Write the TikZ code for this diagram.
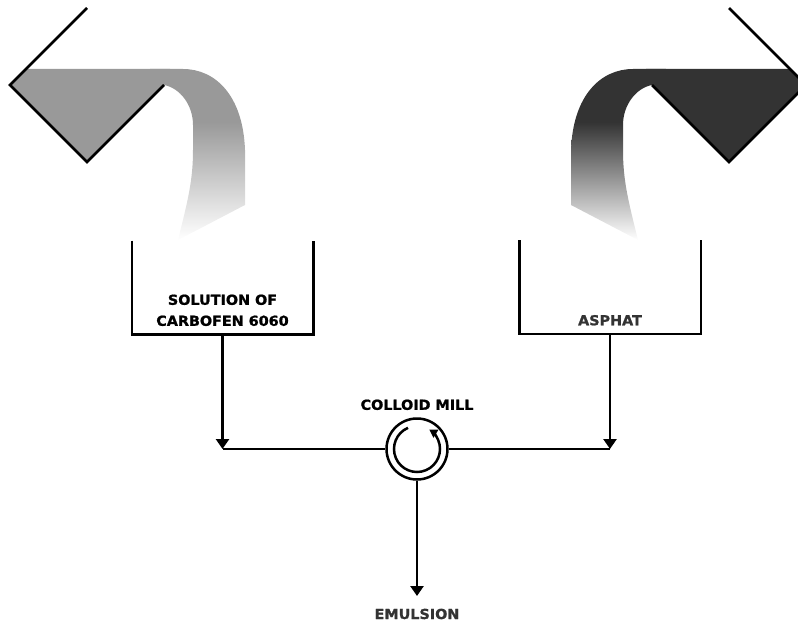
\documentclass[tikz,border=0pt]{standalone}
\usepackage{fontspec}
\setmainfont{DejaVu Sans}[BoldFeatures={FakeStretch=1.04,FakeBold=1.2}]
\usepackage{tikz}
\usetikzlibrary{arrows.meta,positioning}
\definecolor{lightpour}{HTML}{999999}
\definecolor{darkpour}{HTML}{333333}
\pgfdeclareverticalshading{lightfade}{100bp}{color(0bp)=(white); color(25bp)=(white); color(59.5bp)=(lightpour); color(100bp)=(lightpour)}
\pgfdeclareverticalshading{darkfade}{100bp}{color(0bp)=(white); color(25bp)=(white); color(59.5bp)=(darkpour); color(100bp)=(darkpour)}

\begin{document}
\begin{tikzpicture}[x=1pt,y=1pt,line width=2.5pt,
    flow/.style={-{Triangle[length=10pt,width=13pt]}},
    lbl/.style={font=\bfseries\fontsize{13.8}{21}\selectfont, align=center, inner sep=0pt},
    tank/.style={minimum width=179pt, minimum height=91pt, inner sep=0pt}]
  \useasboundingbox (0,0) rectangle (798,625);
  \clip (0,0) rectangle (798,625);

  % tipping vessels
  \fill[lightpour] (26,556) -- (10,540) -- (87,463) -- (164,540) -- (170,556) -- cycle;
  \shade[shading=lightfade] (150,556) -- (183,556) .. controls (215,556) and (243,530) .. (245,475) -- (245,420) -- (178,385) .. controls (188,425) and (193,445) .. (193,475) -- (193,500) .. controls (193,520) and (180,537) .. (164,540) -- cycle;
  \draw (87,617) -- (10,540) -- (87,463) -- (164,540);

  \fill[darkpour] (790,556) -- (806,540) -- (729,463) -- (652,540) -- (646,556) -- cycle;
  \shade[shading=darkfade] (666,556) -- (633,556) .. controls (601,556) and (573,530) .. (571,475) -- (571,420) -- (638,385) .. controls (628,425) and (623,445) .. (623,475) -- (623,500) .. controls (623,520) and (636,537) .. (652,540) -- cycle;
  \draw (729,617) -- (806,540) -- (729,463) -- (652,540);

  % tanks
  \node[tank] (sol) at (222.5,337.5) {};
  \draw (sol.north west) -- (sol.south west) -- (sol.south east) -- (sol.north east);
  \node[lbl, above=7pt of sol.south] (sollbl) {SOLUTION OF\\CARBOFEN 6060};

  \node[tank] (asp) at (610,338) {};
  \draw (asp.north west) -- (asp.south west) -- (asp.south east) -- (asp.north east);
  \node[lbl, text=darkpour, above=7pt of asp.south] (asplbl) {ASPHAT};

  % mill
  \node[draw, circle, minimum size=61pt, inner sep=0pt] (mill) at (417,176) {};
  \draw[-{Triangle[length=8pt,width=9pt]}] (mill.center) ++(113:23) arc[start angle=113, end angle=418, radius=23];
  \node[lbl, above=6pt of mill] (milllbl) {COLLOID MILL};

  \coordinate (jl) at (222.5,176);
  \coordinate (jr) at (610,176);
  \draw[flow] (sol.south) -- (jl);
  \draw (jl) -- (mill.west);
  \draw[flow] (asp.south) -- (jr);
  \draw (mill.east) -- (jr);

  \node[lbl, text=darkpour, anchor=base] (emul) at (417,6) {EMULSION};
  \draw[flow, shorten >=11.5pt] (mill.south) -- (emul.north);
\end{tikzpicture}
\end{document}
